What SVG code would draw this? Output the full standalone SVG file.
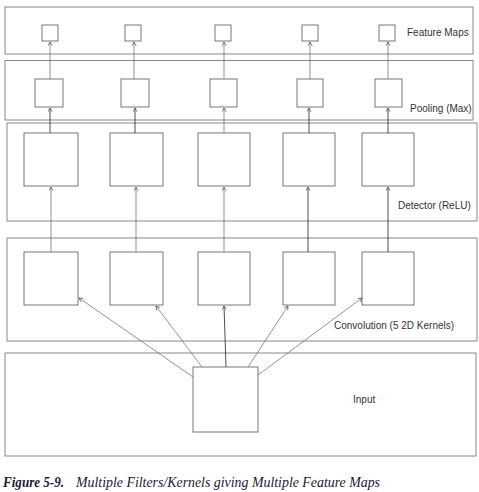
<svg xmlns="http://www.w3.org/2000/svg" width="479" height="492" viewBox="0 0 479 492">
<defs>
<marker id="ah2" viewBox="0 0 6 6" refX="5.5" refY="3" markerWidth="5" markerHeight="5" orient="auto" markerUnits="userSpaceOnUse">
<path d="M1,0.5 L5.5,3 L1,5.5" fill="none" stroke="#444" stroke-width="0.8"/>
</marker>
</defs>
<style>
.panel{fill:#fff;stroke:#888;stroke-width:1}
.box{fill:#fff;stroke:#555;stroke-width:0.8}
.lbl{font-family:"Liberation Sans",Arial,sans-serif;font-size:10px;fill:#333}
.c{fill:none;stroke:#666;stroke-width:0.7}
.k{fill:none;stroke:#222;stroke-width:0.8}
.cap{font-family:"Liberation Serif","Times New Roman",serif;font-style:italic;font-size:14px;fill:#1a1a33}
</style>
<rect width="479" height="492" fill="#fff"/>
<g id="panel-feature-maps">
<rect class="panel" x="5" y="7" width="468" height="47" stroke="#aaa"/>
<text class="lbl" x="407" y="36">Feature Maps</text>
</g>
<g id="panel-pooling">
<rect class="panel" x="5" y="60.5" width="468" height="59.5" stroke="#777" stroke-width="1.2"/>
<text class="lbl" x="410" y="112">Pooling (Max)</text>
</g>
<g id="panel-detector">
<rect class="panel" x="7" y="123" width="470" height="98" stroke="#777"/>
<text class="lbl" x="398" y="209">Detector (ReLU)</text>
</g>
<g id="panel-convolution">
<rect class="panel" x="7" y="238" width="470" height="103" stroke="#777"/>
<text class="lbl" x="334" y="329">Convolution (5 2D Kernels)</text>
</g>
<g id="panel-input">
<rect class="panel" x="5" y="353" width="471" height="103" stroke="#888" stroke-width="1.2"/>
<text class="lbl" x="353" y="403">Input</text>
</g>
<g id="feature-maps">
<rect class="box" x="42" y="25" width="16" height="16"/>
<rect class="box" x="125" y="25" width="16" height="16"/>
<rect class="box" x="215" y="25" width="16" height="16"/>
<rect class="box" x="302" y="25" width="16" height="16"/>
<rect class="box" x="379" y="25" width="16" height="16" stroke="#999"/>
</g>
<g id="pooling-units">
<rect class="box" x="35" y="79" width="28" height="28" stroke="#888"/>
<rect class="box" x="121" y="79" width="28" height="28" stroke="#333"/>
<rect class="box" x="210" y="79" width="27" height="28" stroke="#444"/>
<rect class="box" x="297" y="79" width="26" height="28" stroke="#888"/>
<rect class="box" x="375" y="79" width="27" height="28" stroke="#666"/>
</g>
<g id="detector-units">
<rect class="box" x="24" y="133" width="54" height="53" stroke="#999"/>
<rect class="box" x="110" y="133" width="53" height="53" stroke="#999"/>
<rect class="box" x="198" y="133" width="52" height="53" stroke="#999"/>
<rect class="box" x="283" y="133" width="52" height="53" stroke="#999"/>
<rect class="box" x="362" y="133" width="52" height="53" stroke="#999"/>
</g>
<g id="conv-units">
<rect class="box" x="24" y="252" width="54" height="53"/>
<rect class="box" x="110" y="252" width="53" height="53"/>
<rect class="box" x="198" y="252" width="52" height="53"/>
<rect class="box" x="283" y="252" width="52" height="53"/>
<rect class="box" x="362" y="252" width="52" height="53"/>
</g>
<g id="input-node">
<rect class="box" x="193" y="367" width="65" height="65"/>
</g>
<g id="connectors">
<line class="c" x1="50" y1="79" x2="50" y2="42" marker-end="url(#ah2)" stroke="#999"/>
<line class="c" x1="134" y1="79" x2="134" y2="42" marker-end="url(#ah2)" stroke="#777"/>
<line class="c" x1="224" y1="79" x2="224" y2="42" marker-end="url(#ah2)" stroke="#bbb"/>
<line class="c" x1="310" y1="79" x2="310" y2="42" marker-end="url(#ah2)" stroke="#999"/>
<line class="c" x1="388" y1="79" x2="388" y2="42" marker-end="url(#ah2)" stroke="#555"/>
<line class="k" x1="50" y1="133" x2="50" y2="108" marker-end="url(#ah2)"/>
<line class="k" x1="135" y1="133" x2="135" y2="108" marker-end="url(#ah2)"/>
<line class="c" x1="224" y1="133" x2="224" y2="108" marker-end="url(#ah2)" stroke="#bbb"/>
<line class="k" x1="309" y1="133" x2="309" y2="108" marker-end="url(#ah2)"/>
<line class="k" x1="388" y1="133" x2="388" y2="108" marker-end="url(#ah2)"/>
<line class="c" x1="51" y1="252" x2="51" y2="187" marker-end="url(#ah2)" stroke="#bbb"/>
<line class="c" x1="136" y1="252" x2="136" y2="187" marker-end="url(#ah2)" stroke="#bbb"/>
<line class="c" x1="224" y1="252" x2="224" y2="187" marker-end="url(#ah2)" stroke="#bbb"/>
<line class="k" x1="308" y1="252" x2="308" y2="187" marker-end="url(#ah2)"/>
<line class="k" x1="388" y1="252" x2="388" y2="187" marker-end="url(#ah2)"/>
<line class="c" x1="193" y1="377" x2="79" y2="298" marker-end="url(#ah2)" stroke="#444"/>
<line class="c" x1="202" y1="367" x2="156" y2="306" marker-end="url(#ah2)" stroke="#444"/>
<line class="k" x1="226" y1="367" x2="224" y2="306" marker-end="url(#ah2)"/>
<line class="c" x1="248" y1="367" x2="288" y2="306" marker-end="url(#ah2)" stroke="#444"/>
<line class="c" x1="258" y1="375" x2="362" y2="298" marker-end="url(#ah2)" stroke="#444"/>
</g>
<g id="caption">
<text class="cap" x="3" y="487" font-weight="bold" textLength="61" lengthAdjust="spacingAndGlyphs">Figure 5-9.</text>
<text class="cap" x="76" y="487" textLength="304" lengthAdjust="spacingAndGlyphs">Multiple Filters/Kernels giving Multiple Feature Maps</text>
</g>
</svg>
